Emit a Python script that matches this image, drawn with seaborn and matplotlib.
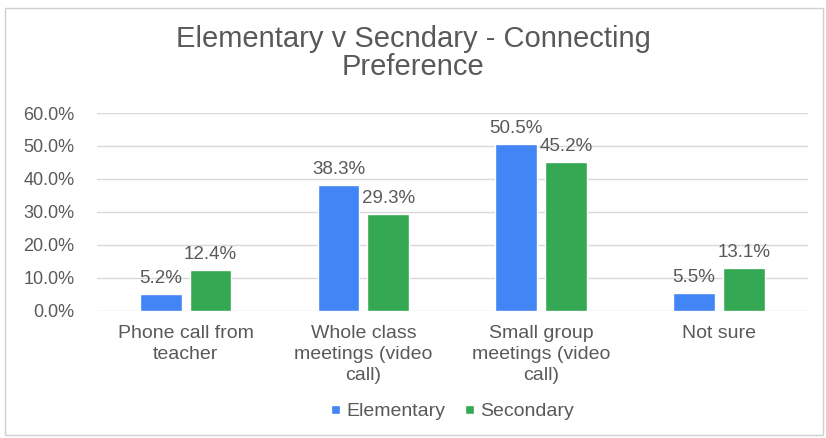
import matplotlib
matplotlib.use("Agg")
import matplotlib.pyplot as plt
import seaborn as sns
import pandas as pd
from matplotlib.patches import Rectangle
from matplotlib.ticker import FuncFormatter

categories = ["Phone call from\nteacher", "Whole class\nmeetings (video\ncall)",
              "Small group\nmeetings (video\ncall)", "Not sure"]
elementary = [5.2, 38.3, 50.5, 5.5]
secondary = [12.4, 29.3, 45.2, 13.1]
series_names = ["Elementary", "Secondary"]
colors = ["#4285F4", "#34A853"]

df = pd.DataFrame({
    "category": categories * 2,
    "value": elementary + secondary,
    "group": [series_names[0]] * 4 + [series_names[1]] * 4,
})

sns.set_theme(style="white")
plt.rcParams["font.family"] = ["Liberation Sans", "DejaVu Sans"]
text_color = "#595959"

fig = plt.figure(figsize=(8.26, 4.38), dpi=100)
ax = fig.add_axes([0.117, 0.29, 0.861, 0.452])

sns.barplot(data=df, x="category", y="value", hue="group", palette=colors,
            width=0.56, gap=0.16, ax=ax, saturation=1, legend=True)

for cont in ax.containers:
    ax.bar_label(cont, labels=[f"{v:.1f}%" for v in cont.datavalues],
                 padding=5, fontsize=13.5, color=text_color)

ax.set_ylim(0, 60)
ax.set_yticks(range(0, 61, 10))
ax.yaxis.set_major_formatter(FuncFormatter(lambda v, p: f"{v:.1f}%"))
ax.grid(axis="y", color="#d9d9d9", linewidth=1)
ax.set_axisbelow(True)
for s in ax.spines.values():
    s.set_visible(False)
ax.set_xlabel("")
ax.set_ylabel("")
ax.tick_params(axis="y", labelsize=13, labelcolor=text_color, pad=16, length=0)
ax.tick_params(axis="x", labelsize=14, labelcolor=text_color, pad=10, length=0)
for lbl in ax.get_xticklabels():
    lbl.set_linespacing(1.3)
ax.set_xlim(-0.5, 3.5)

leg = ax.legend(loc="center", bbox_to_anchor=(0.5, -0.51), ncol=2, frameon=False,
                fontsize=14, handlelength=0.5, handleheight=0.3, handletextpad=0.3,
                columnspacing=1.0)
for t in leg.get_texts():
    t.set_color(text_color)

fig.text(0.5, 0.878, "Elementary v Secndary - Connecting\nPreference", ha="center", va="center",
         fontsize=21, color=text_color, linespacing=1.0)

fig.patches.append(Rectangle((0.006, 0.006), 0.99, 0.975, transform=fig.transFigure,
                             fill=False, edgecolor="#d0d0d0", linewidth=1))

fig.savefig("out.png", dpi=100)
